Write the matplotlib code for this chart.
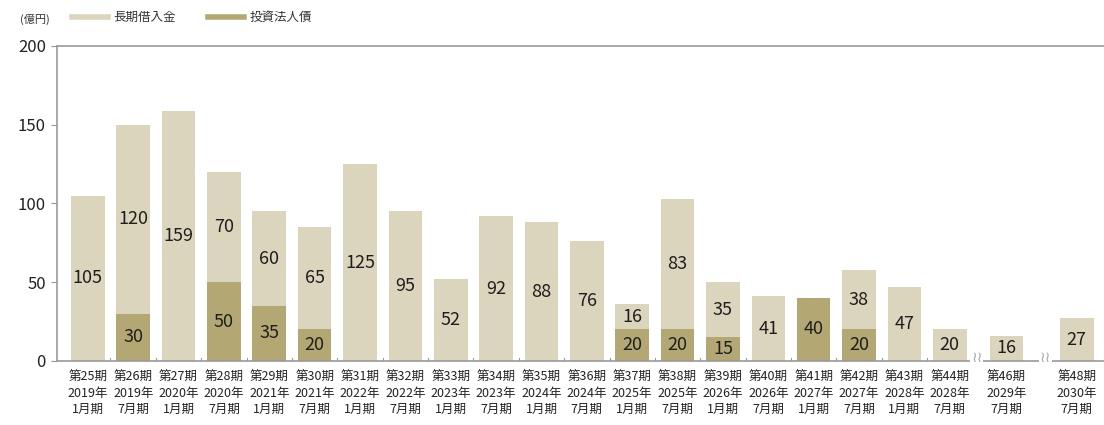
import numpy as np
import matplotlib.pyplot as plt

plt.rcParams['font.family'] = ['Liberation Sans Narrow', 'Noto Sans CJK JP', 'DejaVu Sans']

# 決算期
periods = ['第25期', '第26期', '第27期', '第28期', '第29期', '第30期', '第31期', '第32期',
           '第33期', '第34期', '第35期', '第36期', '第37期', '第38期', '第39期', '第40期',
           '第41期', '第42期', '第43期', '第44期', '第46期', '第48期']
years = ['2019年', '2019年', '2020年', '2020年', '2021年', '2021年', '2022年', '2022年',
         '2023年', '2023年', '2024年', '2024年', '2025年', '2025年', '2026年', '2026年',
         '2027年', '2027年', '2028年', '2028年', '2029年', '2030年']
months = ['1月期', '7月期', '1月期', '7月期', '1月期', '7月期', '1月期', '7月期',
          '1月期', '7月期', '1月期', '7月期', '1月期', '7月期', '1月期', '7月期',
          '1月期', '7月期', '1月期', '7月期', '7月期', '7月期']
# 投資法人債
bonds = [0, 30, 0, 50, 35, 20, 0, 0, 0, 0, 0, 0, 20, 20, 15, 0, 40, 20, 0, 0, 0, 0]
# 長期借入金
loans = [105, 120, 159, 70, 60, 65, 125, 95, 52, 92, 88, 76, 16, 83, 35, 41, 0, 38, 47, 20, 16, 27]

light = '#dcd5bd'
dark = '#b3a874'

# 第44期の後は省略あり
x = np.arange(len(periods), dtype=float)
x[20] = 20.25
x[21] = 21.8

fig = plt.figure(figsize=(11.04, 4.25), dpi=100)
ax = fig.add_axes([0.0516, 0.1506, 0.9484, 0.7412])

w = 0.74
ax.bar(x, bonds, width=w, color=dark, zorder=2)
ax.bar(x, loans, width=w, bottom=bonds, color=light, zorder=2)

for xi, b, l in zip(x, bonds, loans):
    if b > 0:
        ax.text(xi, b / 2, str(b), ha='center', va='center', fontsize=13, color='#1e1e1e', zorder=3)
    if l > 0:
        ax.text(xi, b + l / 2, str(l), ha='center', va='center', fontsize=13, color='#1e1e1e', zorder=3)

ax.set_ylim(0, 200)
ax.set_xlim(-0.68, 22.4)
ax.set_yticks([0, 50, 100, 150, 200])
ax.tick_params(axis='y', length=4, color='#999999', labelsize=12, pad=4, labelcolor='#222222')

ax.set_xticks(x)
ax.set_xticklabels([p + '\n' + y + '\n' + m for p, y, m in zip(periods, years, months)],
                   fontsize=9, linespacing=1.3)
ax.tick_params(axis='x', length=0, pad=7, labelcolor='#222222')

# 棒の間の小さな目盛り
for xb in np.arange(0.5, 19.5, 1.0):
    ax.plot([xb, xb], [0, 2], color='#999999', lw=0.8, zorder=1)

for s in ['top', 'left', 'bottom']:
    ax.spines[s].set_color('#999999')
    ax.spines[s].set_linewidth(1.2)
ax.spines['right'].set_visible(False)

# 省略記号
for xb in [19.6, 21.1]:
    ax.text(xb, 2, '≀≀', ha='center', va='center', fontsize=11, color='#aaaaaa',
            family='DejaVu Sans', zorder=4,
            bbox=dict(boxstyle='square,pad=0.05', fc='white', ec='none'))

fig.text(0.018, 0.955, '(億円)', fontsize=8, color='#333333', va='center')

# 凡例
fig.add_artist(plt.Line2D([0.065, 0.098], [0.96, 0.96], color=light, lw=4))
fig.text(0.103, 0.96, '長期借入金', fontsize=9, color='#333333', va='center')
fig.add_artist(plt.Line2D([0.188, 0.221], [0.96, 0.96], color=dark, lw=4))
fig.text(0.226, 0.96, '投資法人債', fontsize=9, color='#333333', va='center')

fig.savefig('out.png', dpi=100)
